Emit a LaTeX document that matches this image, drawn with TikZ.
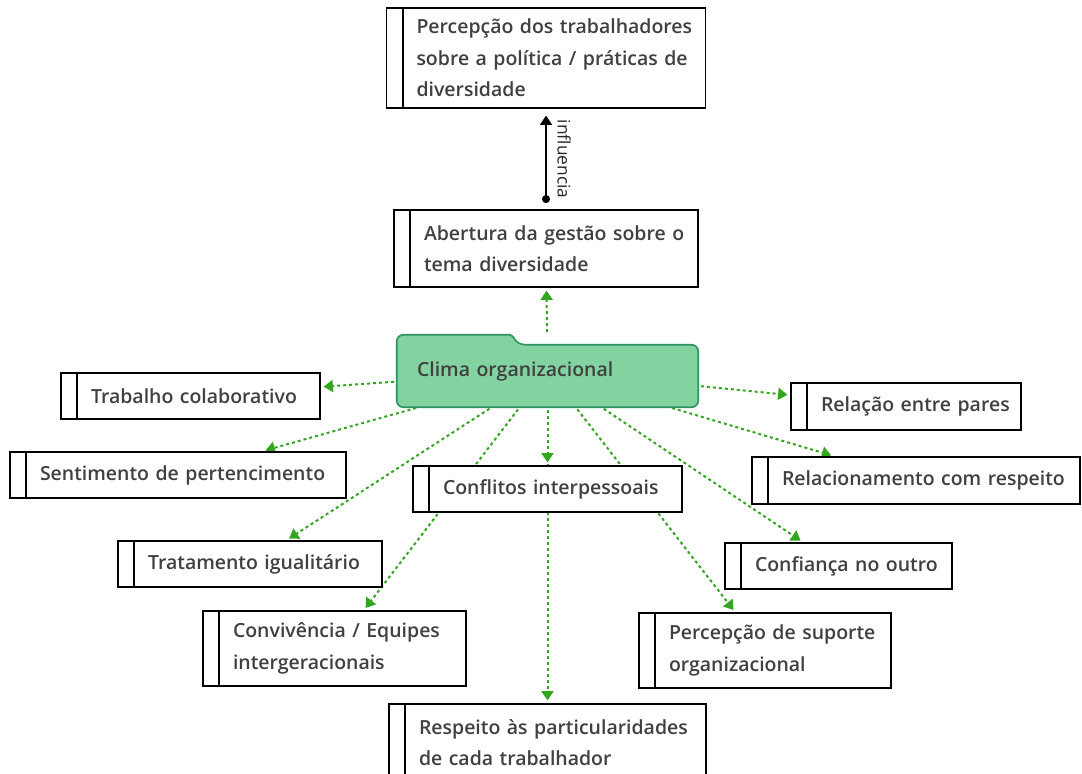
\documentclass[tikz,border=0pt]{standalone}
\usepackage{fontspec}
\setmainfont{Open Sans}
\newfontfamily\boxfont{Open Sans Semibold}
\usepackage{xcolor}
\usetikzlibrary{arrows.meta,backgrounds}
\definecolor{climafill}{HTML}{83D3A0}
\definecolor{climaline}{HTML}{2E9160}
\definecolor{linkgreen}{HTML}{33A61F}
\definecolor{textgray}{HTML}{404040}

\tikzset{
  box/.style={draw, fill=white, line width=1.4pt, align=left, inner xsep=0pt, inner ysep=2pt,
    text=textgray, font=\boxfont\fontsize{14.6pt}{23.5pt}\selectfont,
    execute at begin node={\leftskip=22.5pt}},
  link/.style={draw=linkgreen, line width=1.5pt, dash pattern=on 2.25pt off 2.25pt,
    -{Triangle[width=9pt,length=7pt,fill=linkgreen]}, shorten <=2pt, shorten >=2pt}
}

\begin{document}
\begin{tikzpicture}[x=0.75pt, y=-0.75pt]
        \useasboundingbox (0,0) rectangle (1082,774);

        % Central node
        \node [text=textgray, font=\boxfont\fontsize{14.6pt}{23.5pt}\selectfont, align=left, inner xsep=0pt, text width=225.75pt, minimum height=54pt, execute at begin node={\leftskip=15pt}] (clima) at (547.5, 371) {Clima organizacional};

        % Boxes
        \node [box, text width=239.25pt, minimum height=75pt] (percep) at (546, 58) {Percepção dos trabalhadores\\sobre a política / práticas de\\diversidade};
        \node [box, text width=228pt, minimum height=57.75pt] (abertura) at (546, 248.5) {Abertura da gestão sobre o\\tema diversidade};
        \node [box, text width=194.25pt, minimum height=34.5pt] (trabalho) at (190.5, 396) {Trabalho colaborativo};
        \node [box, text width=252pt, minimum height=34.5pt] (sentimento) at (178, 475) {Sentimento de pertencimento};
        \node [box, text width=201.75pt, minimum height=34.5pt] (conflitos) at (547.5, 489) {Conflitos interpessoais};
        \node [box, text width=172.5pt, minimum height=35.25pt] (relacao) at (906, 406.5) {Relação entre pares};
        \node [box, text width=246pt, minimum height=35.25pt] (relacionamento) at (916, 480.5) {Relacionamento com respeito};
        \node [box, text width=198pt, minimum height=34.5pt] (tratamento) at (250, 564) {Tratamento igualitário};
        \node [box, text width=170.25pt, minimum height=34.5pt] (confianca) at (838.5, 566) {Confiança no outro};
        \node [box, text width=197.25pt, minimum height=56.25pt] (convivencia) at (334.5, 648.5) {Convivência / Equipes\\intergeracionais};
        \node [box, text width=189pt, minimum height=56.25pt] (suporte) at (765, 650.5) {Percepção de suporte\\organizacional};
        \node [box, text width=237.75pt, minimum height=57.75pt] (respeito) at (547.5, 742.5) {Respeito às particularidades\\de cada trabalhador};

        % Left bars
        \foreach \n in {percep, abertura, trabalho, sentimento, conflitos, relacao, relacionamento, tratamento, confianca, convivencia, suporte, respeito}
            \draw [line width=1.4pt] ([xshift=13pt]\n.north west) -- ([xshift=13pt]\n.south west);

        % Links
        \begin{scope}[on background layer]
            \draw [link] (clima) -- (abertura);
            \foreach \t in {trabalho, sentimento, tratamento, convivencia, respeito, conflitos, suporte, confianca, relacionamento, relacao}
                \draw [link] (clima) -- (\t);
            % Folder shape
            \draw [fill=climafill, draw=climaline, line width=1.2pt, rounded corners=5pt] (clima.south west) -- (clima.north west) -- ([xshift=80pt]clima.north west) [sharp corners] .. controls ([xshift=88pt]clima.north west) and ([xshift=88pt, yshift=-7.5pt]clima.north west) .. ([xshift=97pt, yshift=-7.5pt]clima.north west) [rounded corners=5pt] -- ([yshift=-7.5pt]clima.north east) -- (clima.south east) -- cycle;
        \end{scope}

        % Influence
        \draw [line width=1.2pt, {Circle[length=6pt]}-{Triangle[width=9pt,length=7pt]}, shorten <=4.5pt, shorten >=5pt] (abertura) -- (percep) node [midway, rotate=-90, anchor=south, inner sep=8pt, text=black!85, font=\fontsize{13pt}{15pt}\selectfont] {influencia};
\end{tikzpicture}
\end{document}
